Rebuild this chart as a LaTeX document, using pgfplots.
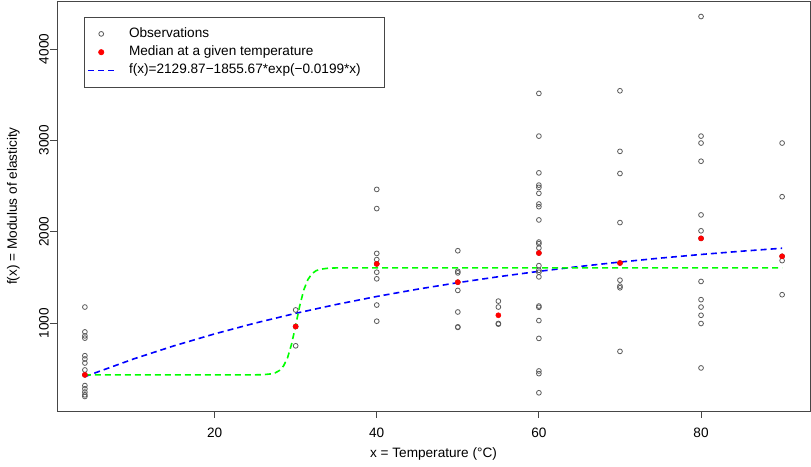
\documentclass[border=0pt]{standalone}
\usepackage{fontspec}
\setmainfont{Liberation Sans}
\usepackage{pgfplots}
\pgfplotsset{compat=1.18}
\definecolor{rgreen}{RGB}{0,255,0}
\definecolor{rblue}{RGB}{0,0,255}
\definecolor{rred}{RGB}{255,0,0}
\definecolor{framegray}{RGB}{70,70,70}
\definecolor{ptgray}{RGB}{90,90,90}
\begin{document}
\begin{tikzpicture}[font=\fontsize{13.6}{16}\selectfont]
\begin{axis}[
  scale only axis, width=753pt, height=410pt,
  xmin=0.56, xmax=93.44, ymin=40, ymax=4525,
  xtick={20,40,60,80}, ytick={1000,2000,3000,4000},
  tick pos=left, tick align=outside, major tick length=7pt,
  axis line style={framegray, line width=0.8pt},
  every tick/.style={framegray, line width=0.8pt},
  /pgf/number format/assume math mode=true,
  /pgf/number format/1000 sep={},
  yticklabel style={rotate=90, anchor=south, inner sep=0pt, yshift=1pt},
  xticklabel style={inner sep=0pt, anchor=north, yshift=-10pt},
  xlabel={x = Temperature (°C)},
  ylabel={f(x) = Modulus of elasticity},
  xlabel style={yshift=-6pt},
  ylabel style={yshift=16pt},
  legend style={at={(axis description cs:0.0359,0.961)}, anchor=north west,
    draw=framegray, line width=0.8pt, inner xsep=3pt, inner ysep=10pt,
    row sep=5.3pt, column sep=14pt,
    nodes={inner sep=0pt, text height=10pt, text depth=3pt}},
  legend cell align=left,
  legend image code/.code={\draw[mark repeat=2,mark phase=2,#1] plot coordinates {(0pt,0pt) (13pt,0pt) (26pt,0pt)};},
]
\addplot[only marks, mark=o, mark size=2.4pt, ptgray, line width=0.8pt] table {
x y
4 1177
4 905
4 862
4 837
4 645
4 609
4 565
4 489
4 435
4 318
4 283
4 247
4 217
4 199
30 1145
30 964
30 753
40 2464
40 2254
40 1764
40 1696
40 1649
40 1558
40 1486
40 1199
40 1022
50 1793
50 1568
50 1551
50 1449
50 1359
50 1123
50 960
50 955
55 1242
55 1177
55 997
55 990
60 3514
60 3047
60 2645
60 2511
60 2486
60 2421
60 2304
60 2275
60 2130
60 1888
60 1870
60 1823
60 1768
60 1630
60 1579
60 1558
60 1507
60 1188
60 1174
60 1029
60 834
60 478
60 449
60 239
70 3543
70 2880
70 2638
70 2101
70 1659
70 1471
70 1406
70 1388
70 692
80 4355
80 3047
80 2971
80 2772
80 2185
80 2011
80 1928
80 1457
80 1258
80 1177
80 1087
80 997
80 511
90 2971
90 2384
90 1732
90 1685
90 1312
};
\addlegendentry{Observations}
\addplot[only marks, mark=*, mark size=2.6pt, rred, mark options={draw=rred, fill=rred}] table {
x y
4 435
30 964
40 1649
50 1449
55 1087
60 1768
70 1659
80 1928
90 1732
};
\addlegendentry{Median at a given temperature}
\addplot[rblue, line width=1.6pt, dash pattern=on 6pt off 4pt, mark=none] coordinates {
(4,416.2) (10,609.1) (15,753.1) (20,883.5) (25,1001.6) (30,1108.4) (35,1205.2)
(40,1292.7) (45,1372.0) (50,1443.8) (55,1508.8) (60,1567.7) (65,1620.9)
(70,1669.1) (75,1712.7) (80,1752.2) (85,1788.0) (90,1820.4)
};
\addlegendentry{f(x)=2129.87−1855.67*exp(−0.0199*x)\rule{21pt}{0pt}}
\addplot[rgreen, line width=1.6pt, dash pattern=on 6pt off 4pt, mark=none, forget plot] coordinates {
(4,435) (20,435) (25,435.6) (26,437.5) (27,446) (27.5,458) (28,483) (28.5,532) (29,623)
(29.5,773) (30,977) (30.5,1190) (31,1364) (31.5,1477) (32,1541) (32.5,1574) (33,1590)
(34,1602) (35,1605) (90,1605)
};
\end{axis}
\pgfresetboundingbox
\path[use as bounding box] ([xshift=-57pt,yshift=-56pt]current axis.south west) rectangle ([xshift=1pt,yshift=1pt]current axis.north east);
\end{tikzpicture}
\end{document}
